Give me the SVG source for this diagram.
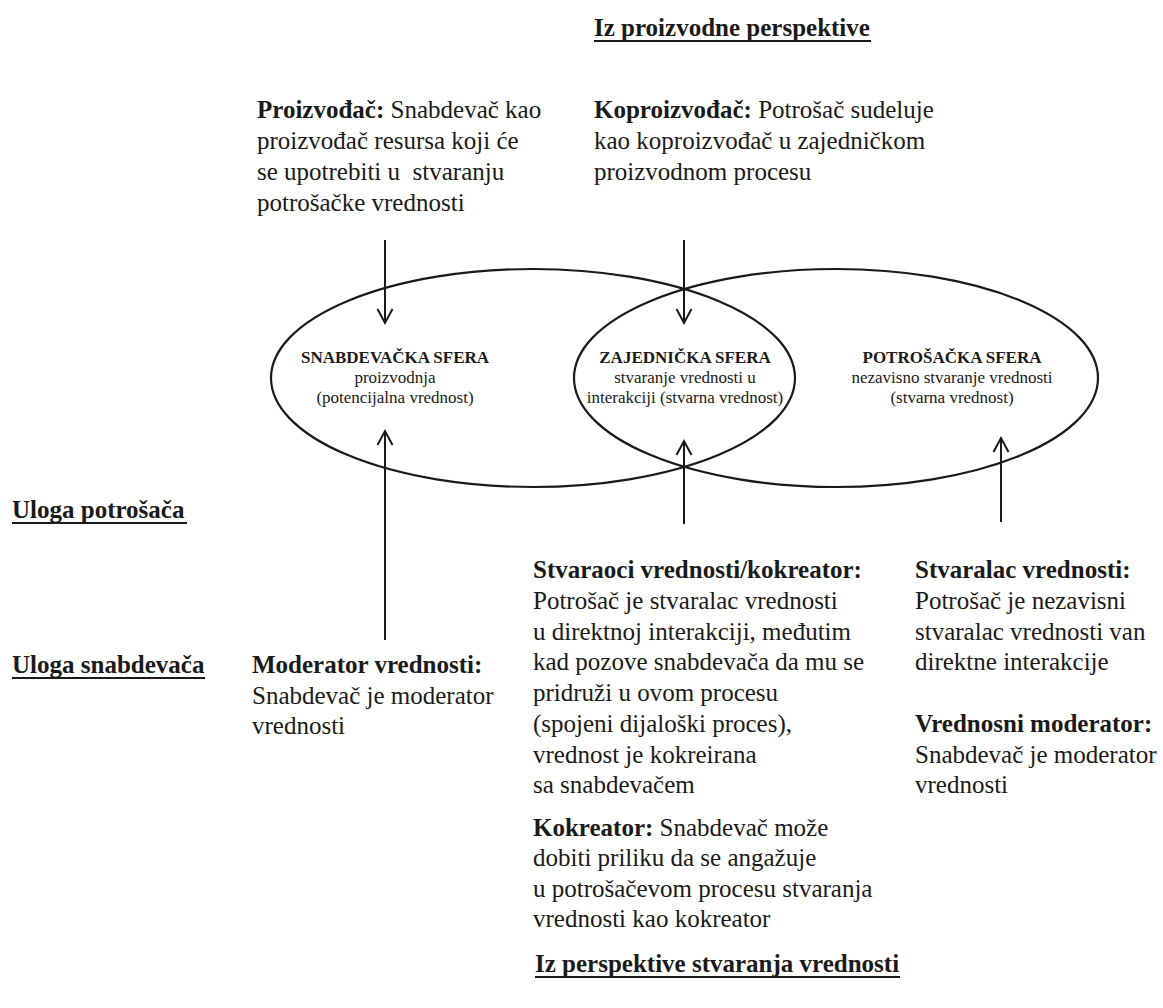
<svg xmlns="http://www.w3.org/2000/svg" width="1163" height="1008" viewBox="0 0 1163 1008">
<style>
text{font-family:"Liberation Serif","Times New Roman",serif;fill:#1a1a1a}
.t{font-size:25px}
.b{font-weight:bold}
.s{font-size:17px}
.m{text-anchor:middle}
.u{stroke:#1a1a1a;stroke-width:2}
.sphere{fill:none;stroke:#1a1a1a;stroke-width:2.2}
.arr{fill:none;stroke:#1a1a1a;stroke-width:2;marker-end:url(#ah)}
</style>
<defs>
<marker id="ah" markerUnits="userSpaceOnUse" markerWidth="20" markerHeight="20" viewBox="-16 -10 20 20" refX="0" refY="0" orient="auto">
<path d="M-14,-7.5 L0,0 L-14,7.5" fill="none" stroke="#1a1a1a" stroke-width="2"/>
</marker>
</defs>
<rect width="1163" height="1008" fill="#fff"/>

<g id="title-top">
<text class="t b" x="594" y="36">Iz proizvodne perspektive</text>
<line class="u" x1="594" y1="41" x2="871" y2="41"/>
</g>

<g id="proizvodjac">
<text class="t" x="257" y="118"><tspan class="b">Proizvođač:</tspan> Snabdevač kao</text>
<text class="t" x="257" y="149">proizvođač resursa koji će</text>
<text class="t" x="257" y="180" xml:space="preserve">se upotrebiti u  stvaranju</text>
<text class="t" x="257" y="211">potrošačke vrednosti</text>
</g>

<g id="koproizvodjac">
<text class="t" x="594" y="118"><tspan class="b">Koproizvođač:</tspan> Potrošač sudeluje</text>
<text class="t" x="594" y="149">kao koproizvođač u zajedničkom</text>
<text class="t" x="594" y="180">proizvodnom procesu</text>
</g>

<g id="snabdevacka-sfera">
<ellipse class="sphere" cx="533" cy="378" rx="262" ry="109"/>
<text class="s b m" x="395" y="363">SNABDEVAČKA SFERA</text>
<text class="s m" x="395" y="383">proizvodnja</text>
<text class="s m" x="395" y="403">(potencijalna vrednost)</text>
</g>

<g id="potrosacka-sfera">
<ellipse class="sphere" cx="836" cy="378" rx="262" ry="109"/>
<text class="s b m" x="952" y="363">POTROŠAČKA SFERA</text>
<text class="s m" x="952" y="383">nezavisno stvaranje vrednosti</text>
<text class="s m" x="952" y="403">(stvarna vrednost)</text>
</g>

<g id="zajednicka-sfera">
<text class="s b m" x="685" y="363">ZAJEDNIČKA SFERA</text>
<text class="s m" x="685" y="383">stvaranje vrednosti u</text>
<text class="s m" x="685" y="403">interakciji (stvarna vrednost)</text>
</g>

<g id="connectors">
<line class="arr" x1="385" y1="240" x2="385" y2="323"/>
<line class="arr" x1="684" y1="240" x2="684" y2="323"/>
<line class="arr" x1="385" y1="640" x2="385" y2="431"/>
<line class="arr" x1="684" y1="524" x2="684" y2="441"/>
<line class="arr" x1="1001" y1="522" x2="1001" y2="438"/>
</g>

<g id="uloga-potrosaca">
<text class="t b" x="12" y="518">Uloga potrošača</text>
<line class="u" x1="12" y1="523" x2="187" y2="523"/>
</g>

<g id="uloga-snabdevaca">
<text class="t b" x="12" y="673">Uloga snabdevača</text>
<line class="u" x1="12" y1="678" x2="205" y2="678"/>
</g>

<g id="moderator-vrednosti">
<text class="t b" x="252" y="673">Moderator vrednosti:</text>
<text class="t" x="252" y="704">Snabdevač je moderator</text>
<text class="t" x="252" y="734">vrednosti</text>
</g>

<g id="stvaraoci-vrednosti">
<text class="t b" x="533" y="578">Stvaraoci vrednosti/kokreator:</text>
<text class="t" x="533" y="609">Potrošač je stvaralac vrednosti</text>
<text class="t" x="533" y="640">u direktnoj interakciji, međutim</text>
<text class="t" x="533" y="670">kad pozove snabdevača da mu se</text>
<text class="t" x="533" y="701">pridruži u ovom procesu</text>
<text class="t" x="533" y="732">(spojeni dijaloški proces),</text>
<text class="t" x="533" y="763">vrednost je kokreirana</text>
<text class="t" x="533" y="793">sa snabdevačem</text>
</g>

<g id="kokreator">
<text class="t" x="533" y="836"><tspan class="b">Kokreator:</tspan> Snabdevač može</text>
<text class="t" x="533" y="866">dobiti priliku da se angažuje</text>
<text class="t" x="533" y="897">u potrošačevom procesu stvaranja</text>
<text class="t" x="533" y="927">vrednosti kao kokreator</text>
</g>

<g id="stvaralac-vrednosti">
<text class="t b" x="915" y="578">Stvaralac vrednosti:</text>
<text class="t" x="915" y="609">Potrošač je nezavisni</text>
<text class="t" x="915" y="640">stvaralac vrednosti van</text>
<text class="t" x="915" y="670">direktne interakcije</text>
</g>

<g id="vrednosni-moderator">
<text class="t b" x="915" y="732">Vrednosni moderator:</text>
<text class="t" x="915" y="763">Snabdevač je moderator</text>
<text class="t" x="915" y="793">vrednosti</text>
</g>

<g id="title-bottom">
<text class="t b" x="535" y="972">Iz perspektive stvaranja vrednosti</text>
<line class="u" x1="535" y1="977" x2="900" y2="977"/>
</g>
</svg>
